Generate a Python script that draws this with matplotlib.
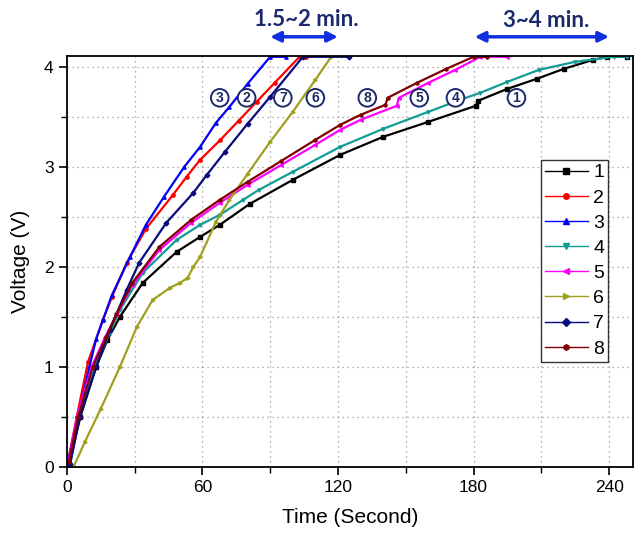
import matplotlib
matplotlib.use("Agg")
import matplotlib.pyplot as plt
from matplotlib.ticker import MultipleLocator

plt.rcParams['font.family'] = ['Liberation Sans', 'DejaVu Sans']

# charging curves: time (s) and voltage (V)
t1 = [1, 6, 13, 18, 23.5, 33.6, 48.6, 59, 67.7, 81, 100, 121, 140, 160, 181, 182, 195, 208, 220, 233, 239, 248]
v1 = [0.02, 0.5, 1.0, 1.27, 1.5, 1.84, 2.15, 2.3, 2.42, 2.63, 2.87, 3.12, 3.3, 3.45, 3.61, 3.66, 3.78, 3.88, 3.98, 4.07, 4.1, 4.1]

t2 = [0.5, 4.4, 9.4, 16, 20, 26.5, 35, 47, 53, 59, 68, 76, 84, 92, 103, 106]
v2 = [0.05, 0.5, 1.05, 1.47, 1.7, 2.04, 2.38, 2.72, 2.9, 3.07, 3.27, 3.46, 3.65, 3.84, 4.1, 4.1]

t3 = [0.5, 5, 10, 13, 16, 20, 28, 35, 43, 52, 59, 66, 72, 80, 90, 97]
v3 = [0.05, 0.5, 1.0, 1.28, 1.47, 1.72, 2.1, 2.42, 2.7, 3.0, 3.2, 3.44, 3.6, 3.83, 4.1, 4.1]

t4 = [1.5, 5.5, 12.5, 19, 23.5, 33.6, 48.6, 59, 67.7, 78, 85, 100, 121, 140, 160, 174, 183, 195, 209, 225, 242, 248]
v4 = [0.03, 0.5, 1.0, 1.34, 1.57, 1.94, 2.27, 2.42, 2.52, 2.67, 2.77, 2.95, 3.2, 3.38, 3.55, 3.67, 3.74, 3.85, 3.97, 4.05, 4.1, 4.1]

t5 = [1, 4.5, 11, 17, 22, 29, 41, 55, 67.7, 80, 95, 110, 121, 130, 146, 147, 160, 172, 183, 195]
v5 = [0.08, 0.5, 1.0, 1.3, 1.52, 1.82, 2.17, 2.44, 2.64, 2.82, 3.02, 3.22, 3.37, 3.47, 3.61, 3.69, 3.84, 3.97, 4.1, 4.1]

t6 = [3, 8, 15, 23.5, 31, 38, 45.6, 50, 53.5, 56, 59, 66, 72, 80, 90, 100, 110, 117]
v6 = [0.0, 0.25, 0.58, 1.0, 1.4, 1.67, 1.79, 1.84, 1.89, 2.0, 2.1, 2.45, 2.67, 2.93, 3.25, 3.55, 3.87, 4.1]

t7 = [1.5, 5.7, 13, 19, 26.5, 32, 44, 56, 62, 70, 80, 90, 104.5, 125]
v7 = [0.03, 0.5, 1.0, 1.37, 1.77, 2.04, 2.44, 2.74, 2.92, 3.15, 3.43, 3.7, 4.1, 4.1]

t8 = [1, 5, 11.5, 17.5, 22, 29, 41, 55, 67.7, 80, 95, 110, 121, 130, 141, 142, 155, 168, 180, 186]
v8 = [0.05, 0.5, 1.0, 1.3, 1.53, 1.84, 2.2, 2.47, 2.67, 2.85, 3.06, 3.27, 3.42, 3.52, 3.62, 3.69, 3.84, 3.98, 4.1, 4.1]

labels = ['1', '2', '3', '4', '5', '6', '7', '8']
colors = ['black', 'red', 'blue', '#119c94', 'magenta', '#a0a020', '#0a0a80', '#800000']
markers = ['s', 'o', '^', 'v', '<', '>', 'D', 'h']

# circled tags over the curves
tag_names = ['3', '2', '7', '6', '8', '5', '4', '1']
tag_x = [67.7, 79.6, 95.6, 110, 133, 156, 172, 199]

fig = plt.figure(figsize=(6.36, 5.34), dpi=100)
ax = fig.add_axes([0.105, 0.1255, 0.890, 0.770])

series = [(t1, v1), (t2, v2), (t3, v3), (t4, v4), (t5, v5), (t6, v6), (t7, v7), (t8, v8)]
for (t, v), lab, c, m in zip(series, labels, colors, markers):
    ax.plot(t, v, color=c, lw=1.6, marker=m, markersize=2.4, label=lab)

ax.set_xlim(0, 250.5)
ax.set_ylim(0, 4.11)
ax.xaxis.set_major_locator(MultipleLocator(60))
ax.xaxis.set_minor_locator(MultipleLocator(30))
ax.yaxis.set_major_locator(MultipleLocator(1))
ax.yaxis.set_minor_locator(MultipleLocator(0.5))
ax.grid(True, which='both', linestyle=(0, (1, 3)), color='#999999', lw=0.9)
ax.tick_params(which='major', direction='out', length=6, width=1.2, labelsize=12.5)
ax.tick_params(which='minor', direction='out', length=4, width=1.0)
for s in ax.spines.values():
    s.set_linewidth(1.3)

ax.set_xlabel('Time (Second)', fontsize=15, labelpad=9)
ax.set_ylabel('Voltage (V)', fontsize=15, labelpad=10)

leg = ax.legend(loc='upper left', bbox_to_anchor=(0.8375, 0.747), borderaxespad=0,
                fontsize=14, handlelength=2.2, labelspacing=0.39, fancybox=False,
                edgecolor='#333333', framealpha=1, borderpad=0.2, handletextpad=0.3)
leg.get_frame().set_linewidth(1.0)
for h in leg.legend_handles:
    h.set_linewidth(1.0)
    h.set_markersize(4)

navy = '#1a2a6c'
for name, x in zip(tag_names, tag_x):
    ax.text(x, 3.69, name, ha='center', va='center', fontsize=10, fontweight='bold',
            color=navy, bbox=dict(boxstyle='circle,pad=0.13', fc='white', ec=navy, lw=1.4))

# double arrows above the axes
for x0, x1 in [(90, 120), (180.5, 240)]:
    ax.annotate('', xy=(x0, 4.3), xytext=(x1, 4.3), annotation_clip=False,
                arrowprops=dict(arrowstyle='<|-|>', color='#1030e0', lw=2.5,
                                mutation_scale=15, shrinkA=0, shrinkB=0))
ax.text(106, 4.47, '1.5~2 min.', ha='center', va='center', fontsize=16,
        fontweight='bold', color=navy, family='Lato', clip_on=False)
ax.text(212, 4.46, '3~4 min.', ha='center', va='center', fontsize=16,
        fontweight='bold', color=navy, family='Lato', clip_on=False)

fig.savefig('out.png', dpi=100)
